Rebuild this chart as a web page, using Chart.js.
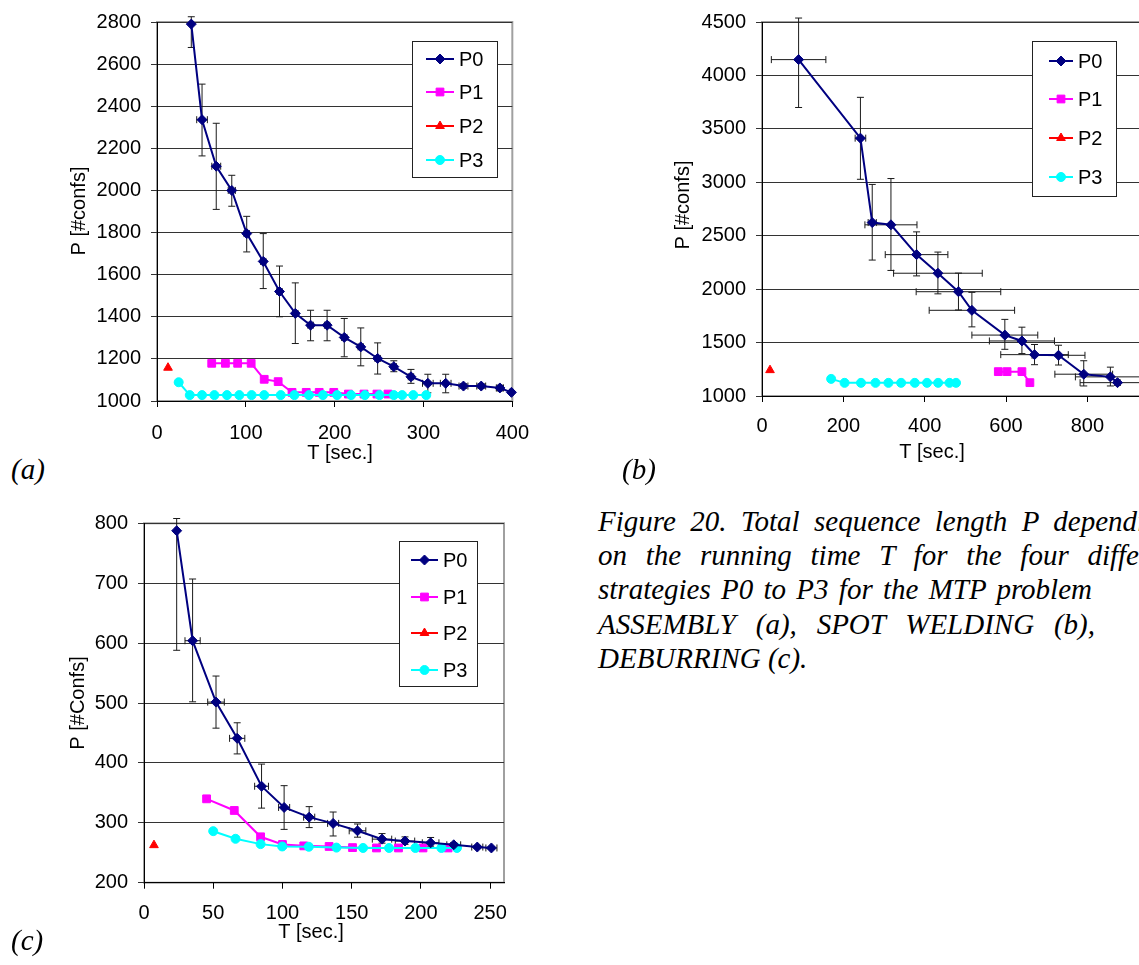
<!DOCTYPE html>
<html>
<head>
<meta charset="utf-8">
<script src="https://cdn.jsdelivr.net/npm/chart.js@4.4.1/dist/chart.umd.min.js"></script>
<style>
  html, body { margin: 0; padding: 0; background: #fff; overflow: hidden; width: 1139px; height: 965px; }
  canvas { position: absolute; }
  .tag { position: absolute; font: italic 29px/32px 'Liberation Serif', 'Times New Roman', serif; }
  #caption { position: absolute; left: 598px; top: 504px; font: italic 29px/34.2px 'Liberation Serif', 'Times New Roman', serif; }
  #caption div { white-space: nowrap; text-align: justify; text-align-last: justify; }
  #caption div.last { text-align-last: left; }
  #caption span { position: absolute; }
</style>
</head>
<body>
<canvas id="chartA" width="493" height="470" style="left:50px;top:0px"></canvas>
<canvas id="chartB" width="553" height="470" style="left:650px;top:0px"></canvas>
<canvas id="chartC" width="484" height="460" style="left:40px;top:500px"></canvas>
<div class="tag" style="left:11px;top:453px">(a)</div>
<div class="tag" style="left:622px;top:453px">(b)</div>
<div class="tag" style="left:11px;top:924px">(c)</div>
<div id="caption">
  <div style="width:539px">Figure 20. Total sequence length P depend<span>ing</span></div>
  <div style="width:541px">on the running time T for the four diffe<span>rent</span></div>
  <div style="width:494px">strategies P0 to P3 for the MTP problem</div>
  <div style="width:497px">ASSEMBLY (a), SPOT WELDING (b),</div>
  <div class="last">DEBURRING (c).</div>
</div>
<script>
// (a) ASSEMBLY
const aXTicks = [0, 100, 200, 300, 400]
const aYTicks = [1000, 1200, 1400, 1600, 1800, 2000, 2200, 2400, 2600, 2800]
const aP0T = [38.6, 50.7, 66.7, 84.2, 101, 119.6, 137.9, 155.7, 172.9, 191.5, 210.8, 229.4, 248.4, 266.6, 285.9, 304.9, 325, 345, 365, 386, 399]
const aP0 = [2790, 2336, 2115, 2000, 1795, 1663, 1520, 1416, 1360, 1360, 1302, 1257, 1202, 1163, 1115, 1084, 1084, 1071, 1071, 1062, 1041]
const aP0Lo = [2679, 2164, 1910, 1925, 1708, 1534, 1400, 1273, 1286, 1286, 1210, 1167, 1128, 1139, 1084, 1039, 1039, 1060, 1060, 1048, 1035]
const aP0Hi = [2825, 2505, 2319, 2072, 1877, 1795, 1641, 1561, 1431, 1431, 1392, 1347, 1276, 1191, 1150, 1127, 1127, 1082, 1082, 1075, 1047]
const aP0Te = [1, 6, 5, 4, 3, 3, 3, 3, 3, 3, 3, 3, 3, 3, 3, 6, 6, 5, 5, 4, 2]
const aP1T = [61.6, 77, 90.8, 106, 120.7, 136.4, 152, 168, 182.6, 199, 215.5, 233, 247.6, 260]
const aP1 = [1179, 1179, 1179, 1179, 1103, 1092, 1041, 1041, 1041, 1041, 1033, 1033, 1033, 1033]
const aP2T = [12.4]
const aP2 = [1158]
const aP3T = [24.4, 36.9, 50.7, 64.6, 78.8, 92.7, 106.5, 120.7, 139.3, 154.6, 171, 186.8, 202.7, 218.5, 234, 250.5, 266.6, 276, 288.5, 303.1]
const aP3 = [1089, 1028, 1028, 1028, 1028, 1028, 1028, 1028, 1028, 1028, 1028, 1028, 1028, 1028, 1028, 1028, 1028, 1028, 1028, 1028]

// (b) SPOT WELDING
const bXTicks = [0, 200, 400, 600, 800, 1000]
const bYTicks = [1000, 1500, 2000, 2500, 3000, 3500, 4000, 4500]
const bP0T = [90, 242, 271, 317, 380, 432.5, 483, 516, 597, 639, 670, 729, 791, 856.5, 874]
const bP0 = [4148, 3413, 2623, 2602, 2323, 2149, 1976, 1802, 1570, 1515, 1387, 1381, 1204, 1179, 1125]
const bP0Lo = [3700, 3028, 2272, 2175, 2124, 1956, 1805, 1647, 1437, 1397, 1293, 1290, 1094, 1094, 1100]
const bP0Hi = [4537, 3795, 2980, 3035, 2536, 2347, 2150, 1970, 1717, 1644, 1482, 1475, 1330, 1270, 1150]
const bP0Te = [67, 13, 10, 64, 77, 109, 104, 105, 81, 80, 83, 65, 71, 86, 92]
const bP1T = [581, 602.5, 639, 658.6]
const bP1 = [1228, 1228, 1228, 1125]
const bP2T = [19.7]
const bP2 = [1242]
const bP3T = [170, 203, 243.4, 279, 310.8, 342, 375.6, 405.7, 433, 461, 477]
const bP3 = [1160, 1123, 1123, 1123, 1123, 1123, 1123, 1123, 1123, 1123, 1123]

// (c) DEBURRING
const cXTicks = [0, 50, 100, 150, 200, 250]
const cYTicks = [200, 300, 400, 500, 600, 700, 800]
const cP0T = [23.6, 35.1, 52, 67.3, 84.9, 101.2, 119.3, 136.6, 154.2, 171.9, 188.5, 207, 223.7, 240.7, 250.9]
const cP0 = [787.6, 604, 501.5, 441, 361, 325.6, 309.4, 299, 286.6, 272.7, 269.5, 266.6, 263.3, 259.5, 258]
const cP0Lo = [588, 502, 458, 415, 324.5, 289, 292, 278, 276, 266, 264, 261, 259, 257, 256]
const cP0Hi = [808, 707, 545, 467, 398, 362, 327, 318, 298, 282, 276.5, 275.5, 267, 262, 260]
const cP0Te = [1, 5.5, 6, 5.5, 5, 4, 4, 4, 6, 7, 7, 6, 5, 4, 4]
const cP1T = [45.2, 65.2, 84.2, 100, 115.4, 133.7, 150.6, 167.9, 183.8, 201.5, 219.6]
const cP1 = [340, 320.6, 276.6, 263.8, 261.5, 260.5, 258.6, 258, 258, 258, 258]
const cP2T = [7.2]
const cP2 = [262.7]
const cP3T = [50, 66.1, 84.2, 99.8, 119, 139, 158.2, 177, 196, 214.8, 226]
const cP3 = [286, 273.3, 264.4, 260.5, 260, 258.6, 258, 258, 258, 258, 258]

const FONT = '"Liberation Sans", Arial, sans-serif'
const FONT_SIZE = 20
Chart.defaults.font.family = FONT
Chart.defaults.font.size = FONT_SIZE
Chart.defaults.color = '#000'

// draws the vertical and horizontal error bars of a dataset
const errorBars = {
    id: 'errorBars',
    beforeDatasetsDraw(chart) {
        const { ctx, scales: { x, y } } = chart
        ctx.save()
        ctx.strokeStyle = '#1a1a1a'
        ctx.lineWidth = 1
        chart.data.datasets.forEach(ds => {
            const e = ds.errorBars
            if (!e) return
            ds.data.forEach((pt, i) => {
                const px = x.getPixelForValue(pt.x)
                const py = y.getPixelForValue(pt.y)
                const lo = y.getPixelForValue(e.lo[i])
                const hi = y.getPixelForValue(e.hi[i])
                const xl = x.getPixelForValue(pt.x - e.dx[i])
                const xr = x.getPixelForValue(pt.x + e.dx[i])
                ctx.beginPath()
                ctx.moveTo(px, lo); ctx.lineTo(px, hi)
                ctx.moveTo(px - 3.5, lo); ctx.lineTo(px + 3.5, lo)
                ctx.moveTo(px - 3.5, hi); ctx.lineTo(px + 3.5, hi)
                ctx.moveTo(xl, py); ctx.lineTo(xr, py)
                ctx.moveTo(xl, py - 3.5); ctx.lineTo(xl, py + 3.5)
                ctx.moveTo(xr, py - 3.5); ctx.lineTo(xr, py + 3.5)
                ctx.stroke()
            })
        })
        ctx.restore()
    }
}

// gray plot area frame, Excel style
const plotFrame = {
    id: 'plotFrame',
    beforeDraw(chart) {
        const { ctx, chartArea: a } = chart
        ctx.save()
        ctx.strokeStyle = '#a0a0a0'
        ctx.lineWidth = 2
        ctx.strokeRect(a.left, a.top, a.right - a.left, a.bottom - a.top)
        ctx.restore()
    }
}

const axisTitles = {
    id: 'axisTitles',
    afterDraw(chart, args, o) {
        const ctx = chart.ctx
        ctx.save()
        ctx.font = FONT_SIZE + 'px ' + FONT
        ctx.fillStyle = '#000'
        ctx.textAlign = 'center'
        ctx.textBaseline = 'middle'
        ctx.fillText(o.x.text, o.x.at[0], o.x.at[1])
        ctx.translate(o.y.at[0], o.y.at[1])
        ctx.rotate(-Math.PI / 2)
        ctx.fillText(o.y.text, 0, 0)
        ctx.restore()
    }
}

// boxed legend inside the plot
const boxLegend = {
    id: 'boxLegend',
    afterDraw(chart, args, o) {
        const ctx = chart.ctx
        ctx.save()
        ctx.fillStyle = '#fff'
        ctx.fillRect(o.box[0], o.box[1], o.box[2], o.box[3])
        ctx.strokeStyle = '#222'
        ctx.lineWidth = 1
        ctx.strokeRect(o.box[0] + 0.5, o.box[1] + 0.5, o.box[2], o.box[3])
        chart.data.datasets.forEach((ds, i) => {
            const ry = o.rows[i]
            ctx.strokeStyle = ds.borderColor
            ctx.fillStyle = ds.backgroundColor
            ctx.lineWidth = ds.borderWidth
            ctx.beginPath()
            ctx.moveTo(o.line[0], ry)
            ctx.lineTo(o.line[1], ry)
            ctx.stroke()
            ctx.lineWidth = 1
            Chart.helpers.drawPoint(ctx, { pointStyle: ds.pointStyle, radius: ds.pointRadius, borderWidth: 1, rotation: 0 }, (o.line[0] + o.line[1]) / 2, ry)
            ctx.fillStyle = '#000'
            ctx.font = FONT_SIZE + 'px ' + FONT
            ctx.textBaseline = 'middle'
            ctx.fillText(ds.label, o.textX, ry + 1)
        })
        ctx.restore()
    }
}

function series(label, xs, ys, color, style, radius, order, err) {
    return {
        label: label,
        data: xs.map((x, i) => ({ x: x, y: ys[i] })),
        showLine: true,
        borderColor: color,
        backgroundColor: color,
        borderWidth: 2,
        pointStyle: style,
        pointRadius: radius,
        pointBorderWidth: 1,
        pointHoverRadius: radius,
        order: order,
        clip: false,
        errorBars: err,
    }
}

function makeChart(id, cfg) {
    const tickList = list => scale => { scale.ticks = list.map(v => ({ value: v })) }
    return new Chart(document.getElementById(id), {
        type: 'scatter',
        data: {
            datasets: [
                series('P0', cfg.p0[0], cfg.p0[1], '#000080', 'rectRot', 5, 0, cfg.err),
                series('P1', cfg.p1[0], cfg.p1[1], '#ff00ff', 'rect', 5.5, 2),
                series('P2', cfg.p2[0], cfg.p2[1], '#ff0000', 'triangle', 5, 3),
                series('P3', cfg.p3[0], cfg.p3[1], '#00ffff', 'circle', 4.5, 1),
            ]
        },
        options: {
            responsive: false,
            animation: false,
            devicePixelRatio: 1,
            layout: { padding: { left: 0, right: 20, top: cfg.top, bottom: 0 } },
            plugins: {
                legend: { display: false },
                tooltip: { enabled: false },
                axisTitles: cfg.titles,
                boxLegend: cfg.legend,
            },
            scales: {
                x: {
                    type: 'linear',
                    min: cfg.xTicks[0],
                    max: cfg.xMax,
                    afterBuildTicks: tickList(cfg.xTicks),
                    afterFit: s => { s.height = cfg.xHeight },
                    grid: { drawOnChartArea: false, color: '#000', tickLength: 6 },
                    border: { color: '#000', width: 1 },
                    ticks: { padding: cfg.xPad, maxRotation: 0, autoSkip: false, callback: v => String(v) },
                },
                y: {
                    min: cfg.yTicks[0],
                    max: cfg.yTicks[cfg.yTicks.length - 1],
                    afterBuildTicks: tickList(cfg.yTicks),
                    afterFit: s => { s.width = cfg.yWidth },
                    grid: { color: '#333', tickLength: 6 },
                    border: { color: '#000', width: 1 },
                    ticks: { padding: 10, autoSkip: false, callback: v => String(v) },
                }
            }
        },
        plugins: [plotFrame, errorBars, axisTitles, boxLegend]
    })
}

makeChart('chartA', {
    p0: [aP0T, aP0], p1: [aP1T, aP1], p2: [aP2T, aP2], p3: [aP3T, aP3],
    err: { lo: aP0Lo, hi: aP0Hi, dx: aP0Te },
    xTicks: aXTicks, xMax: 400, yTicks: aYTicks,
    top: 21, xHeight: 69, yWidth: 107, xPad: 14,
    titles: { x: { text: 'T [sec.]', at: [290, 453] }, y: { text: 'P [#confs]', at: [29, 211] } },
    legend: { box: [362, 41, 85, 136], rows: [59, 92, 126, 160], line: [376, 404], textX: 409 },
})

makeChart('chartB', {
    p0: [bP0T, bP0], p1: [bP1T, bP1], p2: [bP2T, bP2], p3: [bP3T, bP3],
    err: { lo: bP0Lo, hi: bP0Hi, dx: bP0Te },
    xTicks: bXTicks, xMax: 1000, yTicks: bYTicks,
    top: 13.3, xHeight: 74, yWidth: 112, xPad: 12,
    titles: { x: { text: 'T [sec.]', at: [282, 452] }, y: { text: 'P [#confs]', at: [33, 205] } },
    legend: { box: [382, 41, 84, 155], rows: [61, 99, 138, 177], line: [399, 423], textX: 428 },
})

makeChart('chartC', {
    p0: [cP0T, cP0], p1: [cP1T, cP1], p2: [cP2T, cP2], p3: [cP3T, cP3],
    err: { lo: cP0Lo, hi: cP0Hi, dx: cP0Te },
    xTicks: cXTicks, xMax: 260, yTicks: cYTicks,
    top: 23.3, xHeight: 77.3, yWidth: 104, xPad: 13,
    titles: { x: { text: 'T [sec.]', at: [271, 432] }, y: { text: 'P [#Confs]', at: [38, 203] } },
    legend: { box: [359, 41, 78, 145], rows: [60, 97, 133, 170], line: [371, 398], textX: 403 },
})
</script>
</body>
</html>
